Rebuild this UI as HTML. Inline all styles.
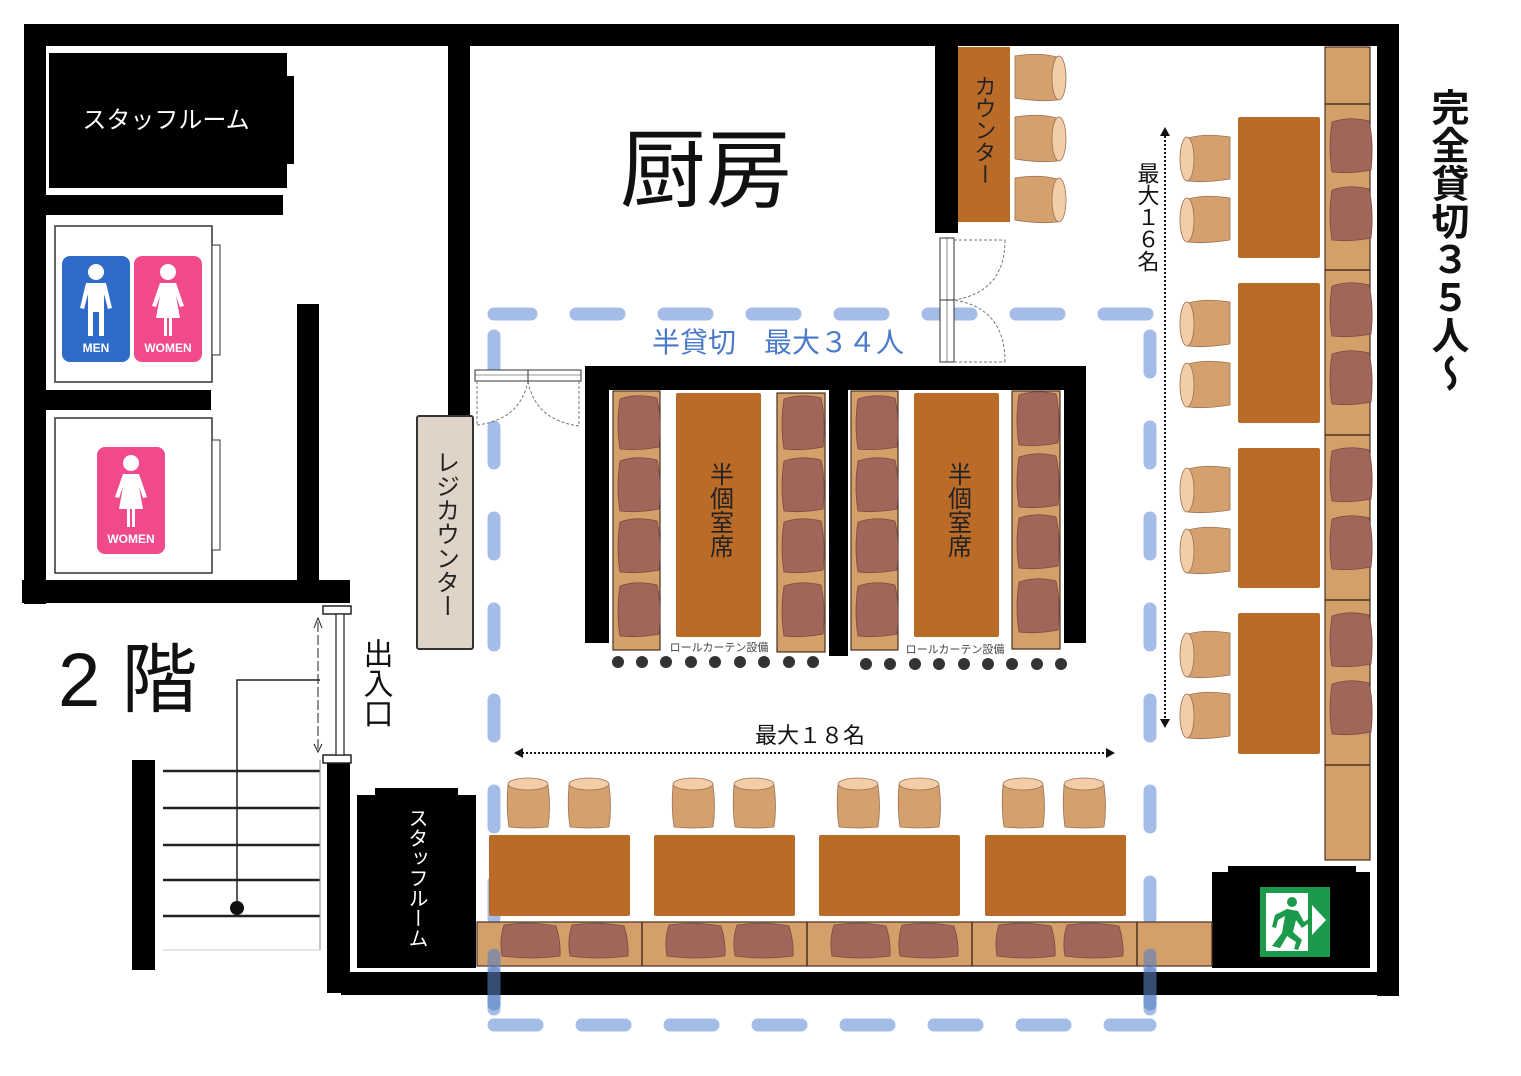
<!DOCTYPE html>
<html><head><meta charset="utf-8"><style>
html,body{margin:0;padding:0;background:#fff}
svg{display:block}
text{font-family:"Liberation Sans","Noto Sans CJK JP",sans-serif}
</style></head><body>
<svg width="1521" height="1076" viewBox="0 0 1521 1076" xmlns="http://www.w3.org/2000/svg">
<defs>
<g id="cush"><path d="M3,4 Q20,-2 40,3 Q45,25 42,52 Q22,56 3,54 Q-1,30 3,4Z" fill="#a0665a" stroke="#7a4a40" stroke-width="0.8"/></g>
<g id="cushh"><path d="M4,3 Q30,-1 56,4 Q61,20 60,34 Q30,38 2,34 Q-1,18 4,3Z" fill="#a0665a" stroke="#7a4a40" stroke-width="0.8"/></g>
<g id="chairR"><path d="M0,2 Q25,-2 42,3 Q46,24 42,46 Q25,48 0,44Z" fill="#d4a06e" stroke="#9a7050" stroke-width="0.8"/><ellipse cx="44" cy="24" rx="7" ry="22" fill="#f2cda8" stroke="#9a7050" stroke-width="0.8"/></g>
<g id="chairL"><path d="M50,2 Q25,-2 8,3 Q4,24 8,46 Q25,48 50,44Z" fill="#d4a06e" stroke="#9a7050" stroke-width="0.8"/><ellipse cx="7" cy="24" rx="7" ry="22" fill="#f2cda8" stroke="#9a7050" stroke-width="0.8"/></g>
<g id="chairU"><path d="M2,8 Q0,30 3,50 Q22,52 42,50 Q45,30 42,8Z" fill="#d4a06e" stroke="#9a7050" stroke-width="0.8"/><ellipse cx="22" cy="7" rx="20" ry="6" fill="#f2cda8" stroke="#9a7050" stroke-width="0.8"/></g>
</defs>

<g stroke="#a4bde8" stroke-width="13" stroke-linecap="round" fill="none">
<path d="M494,314 H1150" stroke-dasharray="43,45" stroke-dashoffset="6"/>
<path d="M494,1025 H1150" stroke-dasharray="43,45"/>
<path d="M494,336 V1028" stroke-dasharray="36,55"/>
<path d="M1150,336 V1028" stroke-dasharray="36,55"/>
</g>

<g fill="#000">
<rect x="24" y="24" width="1375" height="22"/>
<rect x="24" y="24" width="22" height="580"/>
<rect x="1377" y="24" width="22" height="972"/>
<rect x="341" y="972" width="1058" height="23"/>
<rect x="327" y="760" width="23" height="233"/>
<rect x="49" y="53" width="238" height="135"/>
<rect x="280" y="76" width="14" height="88"/>
<rect x="46" y="195" width="237" height="20"/>
<rect x="448" y="45" width="22" height="370"/>
<rect x="46" y="390" width="165" height="20"/>
<rect x="297" y="304" width="22" height="286"/>
<rect x="22" y="580" width="328" height="23"/>
<rect x="935" y="45" width="23" height="188"/>
<rect x="585" y="366" width="501" height="24"/>
<rect x="585" y="366" width="24" height="277"/>
<rect x="829" y="390" width="19" height="266"/>
<rect x="1064" y="366" width="22" height="277"/>
<rect x="132" y="760" width="23" height="210"/>
<rect x="357" y="795" width="119" height="173"/>
<rect x="375" y="788" width="83" height="10"/>
<rect x="1212" y="872" width="158" height="96"/>
<rect x="1228" y="866" width="128" height="8"/>
</g>
<text x="166" y="128" font-size="24" fill="#fff" text-anchor="middle">スタッフルーム</text>
<text font-size="20" fill="#fff" x="416" y="808" style="writing-mode:vertical-rl">スタッフルーム</text>

<rect x="55" y="226" width="157" height="156" fill="#fff" stroke="#333" stroke-width="1.5"/>
<rect x="212" y="245" width="8" height="110" fill="#fff" stroke="#333"/>
<rect x="55" y="418" width="157" height="155" fill="#fff" stroke="#333" stroke-width="1.5"/>
<rect x="212" y="440" width="8" height="110" fill="#fff" stroke="#333"/>
<rect x="62" y="256" width="68" height="106" rx="8" fill="#2f6bc9"/>
<rect x="134" y="256" width="68" height="106" rx="8" fill="#f0498c"/>
<rect x="97" y="447" width="68" height="107" rx="8" fill="#f0498c"/>
<g fill="#fff">
<circle cx="96" cy="272" r="8"/><path d="M86,283 H106 L112,308 L108,309 L104,294 V336 H99 V312 H93 V336 H88 V294 L84,309 L80,308Z"/>
<circle cx="168" cy="272" r="8"/><path d="M160,283 H176 L184,306 L180,307 L176,296 L180,318 H172 V336 H169 V318 H167 V336 H164 V318 H156 L160,296 L156,307 L152,306Z"/>
<circle cx="131" cy="463" r="8"/><path d="M123,474 H139 L147,497 L143,498 L139,487 L143,509 H135 V527 H132 V509 H130 V527 H127 V509 H119 L123,487 L119,498 L115,497Z"/>
</g>
<text x="96" y="352" font-size="12" font-weight="bold" fill="#fff" text-anchor="middle">MEN</text>
<text x="168" y="352" font-size="12" font-weight="bold" fill="#fff" text-anchor="middle">WOMEN</text>
<text x="131" y="543" font-size="12" font-weight="bold" fill="#fff" text-anchor="middle">WOMEN</text>

<text x="706" y="200" font-size="86" fill="#111" text-anchor="middle">厨房</text>

<rect x="417" y="416" width="56" height="233" fill="#e0d4c8" stroke="#333" stroke-width="2" rx="2"/>
<text x="445" y="450" font-size="24" fill="#222" style="writing-mode:vertical-rl">レジカウンター</text>

<rect x="475" y="370" width="106" height="11" fill="#fff" stroke="#333"/>
<line x1="528" y1="370" x2="528" y2="381" stroke="#333"/>
<line x1="475" y1="375" x2="581" y2="375" stroke="#333" stroke-width="0.6"/>
<path d="M477,381 V425 M477,425 Q520,420 528,381 M579,381 V426 M579,426 Q535,420 528,381" stroke="#777" fill="none" stroke-dasharray="3,2"/>

<rect x="958" y="47" width="52" height="175" fill="#bb6b28"/>
<text x="984" y="75" font-size="22" fill="#222" style="writing-mode:vertical-rl">カウンター</text>
<use href="#chairR" x="1015" y="54"/><use href="#chairR" x="1015" y="115"/><use href="#chairR" x="1015" y="176"/>
<rect x="940" y="238" width="14" height="124" fill="#fff" stroke="#333"/>
<line x1="947" y1="238" x2="947" y2="362" stroke="#333" stroke-width="0.6"/>
<line x1="940" y1="300" x2="954" y2="300" stroke="#333"/>
<path d="M954,240 H1005 M1005,240 Q1005,292 954,300 M954,362 H1005 M1005,362 Q1005,308 954,300" stroke="#777" fill="none" stroke-dasharray="3,2"/>

<text x="778" y="352" font-size="28" fill="#4a7ac9" text-anchor="middle">半貸切　最大３４人</text>

<g fill="#d4a06a" stroke="#4a3020" stroke-width="1.2">
<rect x="613" y="391" width="47" height="259"/>
<rect x="777" y="393" width="48" height="259"/>
<rect x="851" y="391" width="47" height="259"/>
<rect x="1012" y="391" width="48" height="258"/>
</g>
<g fill="#bb6b28">
<rect x="676" y="393" width="85" height="244" rx="2"/>
<rect x="914" y="393" width="85" height="244" rx="2"/>
</g>
<g>
<use href="#cush" x="617" y="395"/><use href="#cush" x="617" y="457"/><use href="#cush" x="617" y="518"/><use href="#cush" x="617" y="582"/>
<use href="#cush" x="781" y="395"/><use href="#cush" x="781" y="457"/><use href="#cush" x="781" y="518"/><use href="#cush" x="781" y="582"/>
<use href="#cush" x="855" y="395"/><use href="#cush" x="855" y="457"/><use href="#cush" x="855" y="518"/><use href="#cush" x="855" y="582"/>
<use href="#cush" x="1016" y="391"/><use href="#cush" x="1016" y="453"/><use href="#cush" x="1016" y="514"/><use href="#cush" x="1016" y="578"/>
</g>
<text x="719" y="462" font-size="24" fill="#222" style="writing-mode:vertical-rl">半個室席</text>
<text x="957" y="462" font-size="24" fill="#222" style="writing-mode:vertical-rl">半個室席</text>
<text x="719" y="651" font-size="11" fill="#444" text-anchor="middle">ロールカーテン設備</text>
<text x="955" y="653" font-size="11" fill="#444" text-anchor="middle">ロールカーテン設備</text>
<g fill="#333">
<circle cx="618" cy="662" r="6"/><circle cx="642" cy="662" r="6"/><circle cx="666" cy="662" r="6"/><circle cx="691" cy="662" r="6"/><circle cx="715" cy="662" r="6"/><circle cx="740" cy="662" r="6"/><circle cx="764" cy="662" r="6"/><circle cx="789" cy="662" r="6"/><circle cx="813" cy="662" r="6"/>
<circle cx="866" cy="664" r="6"/><circle cx="890" cy="664" r="6"/><circle cx="915" cy="664" r="6"/><circle cx="939" cy="664" r="6"/><circle cx="964" cy="664" r="6"/><circle cx="988" cy="664" r="6"/><circle cx="1012" cy="664" r="6"/><circle cx="1037" cy="664" r="6"/><circle cx="1061" cy="664" r="6"/>
</g>

<rect x="1325" y="47" width="45" height="813" fill="#d4a06a" stroke="#4a3020" stroke-width="1.2"/>
<g stroke="#4a3020" stroke-width="1.5"><line x1="1325" y1="104" x2="1370" y2="104"/><line x1="1325" y1="270" x2="1370" y2="270"/><line x1="1325" y1="435" x2="1370" y2="435"/><line x1="1325" y1="600" x2="1370" y2="600"/><line x1="1325" y1="765" x2="1370" y2="765"/></g>
<g>
<use href="#cush" x="1329" y="118"/><use href="#cush" x="1329" y="186"/>
<use href="#cush" x="1329" y="282"/><use href="#cush" x="1329" y="350"/>
<use href="#cush" x="1329" y="447"/><use href="#cush" x="1329" y="515"/>
<use href="#cush" x="1329" y="612"/><use href="#cush" x="1329" y="680"/>
</g>
<g fill="#bb6b28">
<rect x="1238" y="117" width="82" height="141" rx="2"/>
<rect x="1238" y="283" width="82" height="140" rx="2"/>
<rect x="1238" y="448" width="82" height="140" rx="2"/>
<rect x="1238" y="613" width="82" height="141" rx="2"/>
</g>
<use href="#chairL" x="1180" y="135"/><use href="#chairL" x="1180" y="196"/>
<use href="#chairL" x="1180" y="300"/><use href="#chairL" x="1180" y="361"/>
<use href="#chairL" x="1180" y="466"/><use href="#chairL" x="1180" y="527"/>
<use href="#chairL" x="1180" y="631"/><use href="#chairL" x="1180" y="692"/>
<line x1="1165" y1="136" x2="1165" y2="720" stroke="#111" stroke-width="2" stroke-dasharray="2,2"/>
<path d="M1160,136 L1165,127 L1170,136Z M1160,719 L1165,728 L1170,719Z" fill="#111"/>
<text x="1147" y="162" font-size="22" fill="#111" style="writing-mode:vertical-rl">最大１６名</text>

<text x="1446" y="88" font-size="38" font-weight="bold" fill="#111" style="writing-mode:vertical-rl">完全貸切３５人～</text>

<rect x="1260" y="887" width="70" height="70" fill="#1a9a4a"/>
<rect x="1266" y="893" width="42" height="58" fill="#fff"/>
<g fill="#1a9a4a"><circle cx="1292" cy="902" r="5"/><path d="M1287,909 L1298,911 L1304,922 L1310,918 L1312,921 L1302,928 L1296,920 L1293,932 L1302,940 L1298,950 L1294,949 L1296,942 L1287,936 L1280,948 L1272,946 L1282,933 L1285,916 L1278,920 L1276,928 L1272,927 L1275,915Z"/></g>
<path d="M1312,905 L1326,920 L1312,935Z" fill="#fff"/>

<rect x="477" y="922" width="735" height="44" fill="#d4a06a" stroke="#4a3020" stroke-width="1.2"/>
<g stroke="#4a3020" stroke-width="1.5"><line x1="642" y1="922" x2="642" y2="966"/><line x1="807" y1="922" x2="807" y2="966"/><line x1="972" y1="922" x2="972" y2="966"/><line x1="1137" y1="922" x2="1137" y2="966"/></g>
<use href="#cushh" x="500" y="922"/><use href="#cushh" x="568" y="922"/>
<use href="#cushh" x="665" y="922"/><use href="#cushh" x="733" y="922"/>
<use href="#cushh" x="830" y="922"/><use href="#cushh" x="898" y="922"/>
<use href="#cushh" x="995" y="922"/><use href="#cushh" x="1063" y="922"/>
<g fill="#bb6b28">
<rect x="489" y="835" width="141" height="81" rx="2"/>
<rect x="654" y="835" width="141" height="81" rx="2"/>
<rect x="819" y="835" width="141" height="81" rx="2"/>
<rect x="985" y="835" width="141" height="81" rx="2"/>
</g>
<use href="#chairU" x="506" y="777"/><use href="#chairU" x="567" y="777"/>
<use href="#chairU" x="671" y="777"/><use href="#chairU" x="732" y="777"/>
<use href="#chairU" x="836" y="777"/><use href="#chairU" x="897" y="777"/>
<use href="#chairU" x="1001" y="777"/><use href="#chairU" x="1062" y="777"/>
<line x1="522" y1="753" x2="1107" y2="753" stroke="#111" stroke-width="2" stroke-dasharray="2,2"/>
<path d="M523,748 L514,753 L523,758Z M1106,748 L1115,753 L1106,758Z" fill="#111"/>
<text x="810" y="743" font-size="22" fill="#111" text-anchor="middle">最大１８名</text>
<g stroke="#5a7fc0" stroke-opacity="0.6" stroke-width="13" stroke-linecap="round"><line x1="494" y1="955" x2="494" y2="1004"/><line x1="1150" y1="955" x2="1150" y2="1004"/></g>

<g stroke="#222" stroke-width="2.5">
<line x1="163" y1="771" x2="320" y2="771"/><line x1="163" y1="808" x2="320" y2="808"/><line x1="163" y1="845" x2="320" y2="845"/><line x1="163" y1="880" x2="320" y2="880"/><line x1="163" y1="916" x2="320" y2="916"/>
</g>
<line x1="320" y1="760" x2="320" y2="950" stroke="#888" stroke-width="1"/>
<line x1="163" y1="950" x2="320" y2="950" stroke="#ccc" stroke-width="1"/>
<path d="M237,908 V680 H320" stroke="#222" stroke-width="1.5" fill="none"/>
<circle cx="237" cy="908" r="7" fill="#111"/>
<rect x="323" y="606" width="28" height="8" fill="#fff" stroke="#222" stroke-width="1.5"/>
<rect x="323" y="755" width="28" height="8" fill="#fff" stroke="#222" stroke-width="1.5"/>
<rect x="336" y="614" width="8" height="141" fill="#fff" stroke="#222" stroke-width="1.2"/>
<path d="M318,622 V750" stroke="#222" stroke-width="1" stroke-dasharray="10,3" fill="none"/>
<path d="M314,628 L318,618 L322,628 M314,744 L318,752 L322,744" stroke="#222" fill="none"/>
<text x="375" y="638" font-size="30" fill="#111" style="writing-mode:vertical-rl">出入口</text>
<text x="58" y="706" font-size="76" fill="#111">2 階</text>
</svg>
</body></html>
